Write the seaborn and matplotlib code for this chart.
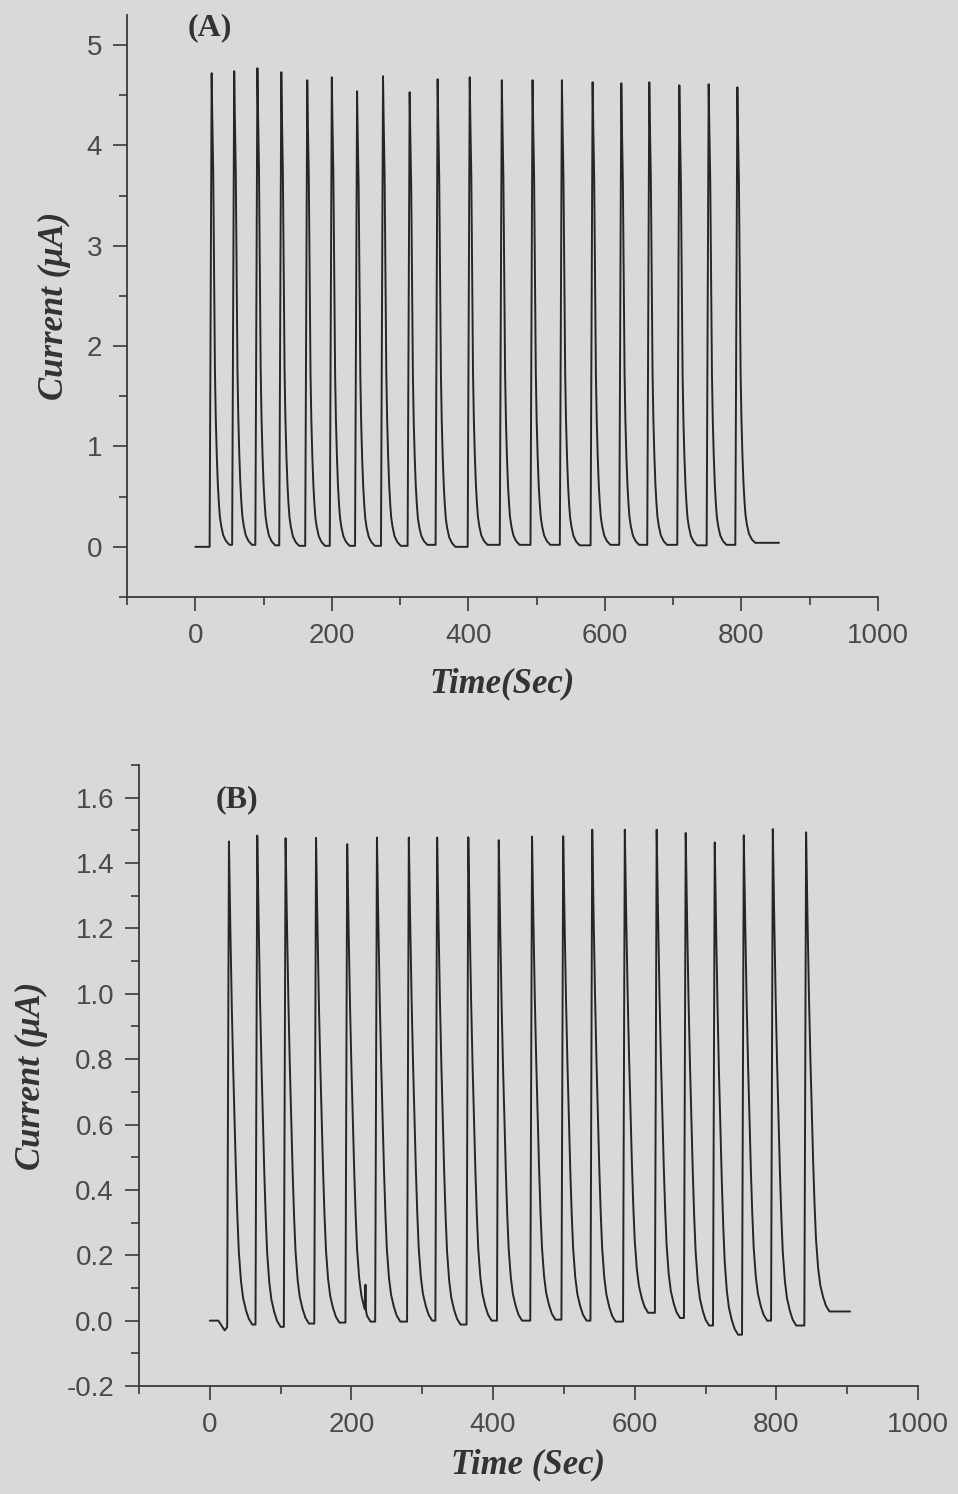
import numpy as np
import pandas as pd
import matplotlib
matplotlib.use("Agg")
import matplotlib.pyplot as plt
import seaborn as sns
from matplotlib.ticker import MultipleLocator, FormatStrFormatter

# ---------------- Panel A data ----------------
a_peak_time = [24, 57, 91, 126, 164, 200, 237, 275, 314, 355, 402, 449, 494, 537, 582, 624, 665, 709, 752, 794]
a_peak_current = [4.72, 4.74, 4.77, 4.73, 4.65, 4.68, 4.54, 4.69, 4.53, 4.66,
                  4.68, 4.65, 4.65, 4.65, 4.63, 4.62, 4.63, 4.60, 4.61, 4.58]
# level just before each injection (first = baseline before first pulse)
a_trough = [0.0, 0.02, 0.02, 0.015, 0.01, 0.01, 0.01, 0.01, 0.01, 0.02, 0.0,
            0.02, 0.02, 0.02, 0.015, 0.02, 0.02, 0.02, 0.015, 0.02]
a_start_time, a_start_level = 0, 0.0
a_end_time, a_end_level = 855, 0.04
a_rise_s = 3.0
a_decay_s = [1, 2.3, 3.5, 4.8, 6, 7.5, 9, 10.5, 12, 14, 17, 21, 26]
a_decay_frac = [0.9, 0.79, 0.58, 0.37, 0.27, 0.19, 0.13, 0.09, 0.06, 0.04, 0.02, 0.008, 0.0]
a_extra = []

# ---------------- Panel B data ----------------
b_peak_time = [27, 67, 107, 150, 194, 236, 281, 321, 365, 408, 455, 499, 540, 586, 631, 672, 713, 754, 795, 842]
b_peak_current = [1.466, 1.484, 1.476, 1.477, 1.458, 1.478, 1.478, 1.478, 1.479, 1.470,
                  1.481, 1.482, 1.502, 1.502, 1.502, 1.492, 1.463, 1.485, 1.504, 1.494]
b_trough = [-0.02, -0.012, -0.019, -0.009, -0.006, -0.003, -0.003, 0.0, -0.012, 0.0,
            0.0, 0.003, 0.0, -0.003, 0.024, 0.008, -0.015, -0.043, 0.0, -0.015]
b_start_time, b_start_level = 0, 0.0
b_end_time, b_end_level = 904, 0.028
b_rise_s = 2.5
b_decay_s = [2, 4, 6, 8, 10, 12, 14, 17, 20, 24, 28, 33]
b_decay_frac = [0.82, 0.66, 0.53, 0.42, 0.31, 0.22, 0.15, 0.09, 0.055, 0.03, 0.012, 0.0]
b_extra = [(12, 0.0), (21, -0.03), (219.0, 0.035), (219.8, 0.11), (220.6, 0.03)]


def build_trace(start_t, start_v, end_t, end_v, peak_t, peak_i, troughs,
                rise, decay_dt, decay_frac, extra):
    pts = [(start_t, start_v)]
    afters = list(troughs[1:]) + [end_v]
    for k, (t, h) in enumerate(zip(peak_t, peak_i)):
        pts.append((t - rise, troughs[k]))
        pts.append((t, h))
        base = afters[k]
        for dt, f in zip(decay_dt, decay_frac):
            pts.append((t + dt, base + (h - base) * f))
    pts.append((end_t, end_v))
    pts += extra
    pts.sort()
    return pd.DataFrame(pts, columns=["Time", "Current"])


df_a = build_trace(a_start_time, a_start_level, a_end_time, a_end_level,
                   a_peak_time, a_peak_current, a_trough,
                   a_rise_s, a_decay_s, a_decay_frac, a_extra)
df_b = build_trace(b_start_time, b_start_level, b_end_time, b_end_level,
                   b_peak_time, b_peak_current, b_trough,
                   b_rise_s, b_decay_s, b_decay_frac, b_extra)

# ---------------- Styling ----------------
sns.set_theme(style="ticks")
bg = "#d9d9d9"
ink = "#262626"
tick_col = "#4a4a4a"
plt.rcParams.update({
    "font.family": ["Liberation Sans", "DejaVu Sans"],
    "axes.unicode_minus": False,
    "figure.facecolor": bg,
    "axes.facecolor": bg,
    "axes.edgecolor": "#3a3a3a",
    "axes.linewidth": 1.3,
    "lines.solid_joinstyle": "round",
})

fig = plt.figure(figsize=(9.58, 14.94), dpi=100)
ax_a = fig.add_axes([127 / 958, (1494 - 597) / 1494, 751 / 958, 582 / 1494])
ax_b = fig.add_axes([139 / 958, (1494 - 1386) / 1494, 779 / 958, 621 / 1494])

label_font = dict(family=["Liberation Serif", "DejaVu Serif"], weight="bold",
                  style="italic", size=25, color="#333333")
panel_font = dict(family=["Liberation Serif", "DejaVu Serif"], weight="bold",
                  size=23, color="#333333")


def style_axes(ax):
    for s in ["top", "right"]:
        ax.spines[s].set_visible(False)
    ax.tick_params(which="major", direction="out", length=10, width=1.2,
                   colors="#3a3a3a", labelcolor=tick_col, labelsize=20, pad=8)
    ax.tick_params(which="minor", direction="out", length=6, width=1.2,
                   colors="#3a3a3a")
    ax.tick_params(axis="x", which="major", pad=9)
    ax.grid(False)


# Panel A
sns.lineplot(data=df_a, x="Time", y="Current", ax=ax_a, color=ink,
             linewidth=1.4, estimator=None, sort=False)
ax_a.set_xlim(-100, 1000)
ax_a.set_ylim(-0.5, 5.3)
ax_a.xaxis.set_major_locator(MultipleLocator(200))
ax_a.xaxis.set_minor_locator(MultipleLocator(100))
ax_a.yaxis.set_major_locator(MultipleLocator(1))
ax_a.yaxis.set_minor_locator(MultipleLocator(0.5))
ax_a.yaxis.set_major_formatter(FormatStrFormatter("%d"))
style_axes(ax_a)
ax_a.set_xlabel("Time(Sec)", fontdict=label_font, labelpad=13)
ax_a.set_ylabel("Current (μA)", fontdict=label_font, labelpad=11)
ax_a.text(0.11, 0.978, "(A)", transform=ax_a.transAxes, ha="center", va="center",
          fontdict=panel_font)

# Panel B
sns.lineplot(data=df_b, x="Time", y="Current", ax=ax_b, color=ink,
             linewidth=1.4, estimator=None, sort=False)
ax_b.set_xlim(-100, 1000)
ax_b.set_ylim(-0.2, 1.7)
ax_b.xaxis.set_major_locator(MultipleLocator(200))
ax_b.xaxis.set_minor_locator(MultipleLocator(100))
ax_b.yaxis.set_major_locator(MultipleLocator(0.2))
ax_b.yaxis.set_minor_locator(MultipleLocator(0.1))
ax_b.yaxis.set_major_formatter(FormatStrFormatter("%.1f"))
style_axes(ax_b)
ax_b.set_xlabel("Time (Sec)", fontdict=label_font, labelpad=7)
ax_b.set_ylabel("Current (μA)", fontdict=label_font, labelpad=13)
ax_b.text(0.126, 0.944, "(B)", transform=ax_b.transAxes, ha="center", va="center",
          fontdict=panel_font)

fig.savefig("out.png", dpi=100, facecolor=bg)
